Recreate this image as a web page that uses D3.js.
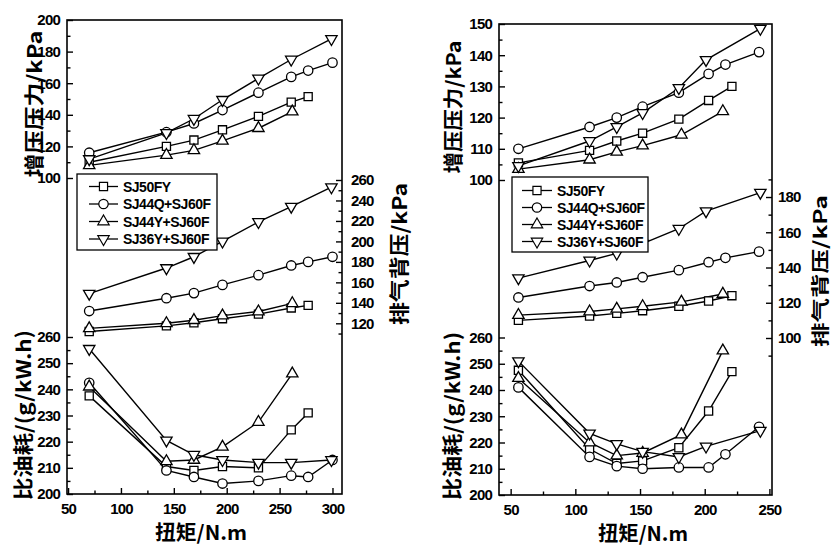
<!DOCTYPE html>
<html>
<head>
<meta charset="utf-8">
<script src="https://cdn.jsdelivr.net/npm/d3@7"></script>
<style>
body { margin: 0; background: #fff; }
svg { display: block; background: #fff; }
.tick text { font-family: 'Liberation Sans', Arial, sans-serif; font-weight: bold; font-size: 15px; letter-spacing: -0.8px; fill: #000; }
.tick line { stroke: #000; stroke-width: 1.4; }
.title { font-family: 'Noto Sans CJK SC', sans-serif; font-weight: bold; font-size: 20px; fill: #000; }
.legend text { font-family: 'Liberation Sans', Arial, sans-serif; font-weight: bold; font-size: 14px; letter-spacing: -0.5px; fill: #000; }
</style>
</head>
<body>
<svg id="chart" width="834" height="547"></svg>
<script>
// series
const seriesNames = ['SJ50FY', 'SJ44Q+SJ60F', 'SJ44Y+SJ60F', 'SJ36Y+SJ60F'];

// left panel : torque (N.m) per series
const leftTorque = [
    [70, 143, 169, 196, 230, 261, 277],
    [70, 143, 169, 196, 230, 261, 277, 300],
    [70, 143, 169, 196, 230, 262],
    [70, 143, 169, 196, 230, 261, 299]
];
const leftBoost = [
    [110, 120, 124, 130.5, 139, 148, 151.5],
    [116, 129, 134.5, 143, 154, 164, 168, 173],
    [108, 114.5, 117.5, 123.5, 131.5, 142],
    [112, 128.5, 137.5, 149.5, 163, 175, 188]
];
const leftExhaust = [
    [112, 117.5, 120.5, 124.5, 129, 135, 137.5],
    [132, 144.5, 149.5, 157.5, 167, 176.5, 180, 185],
    [115, 120, 123, 127.5, 131.5, 139.5],
    [149, 174, 185, 200, 219, 234, 253]
];
const leftSfc = [
    [237.5, 210.5, 209, 210.5, 210, 224.5, 231],
    [242.5, 209, 206.5, 204, 205, 207, 206.5, 213],
    [241, 212.5, 213, 218, 227.5, 246],
    [255.5, 220.5, 215, 213, 212, 212, 213]
];

// right panel
const rightTorque = [
    [56, 111, 132, 152, 180, 203, 221],
    [56, 111, 132, 152, 180, 203, 216, 242],
    [56, 111, 132, 152, 182, 214],
    [56, 111, 132, 152, 180, 201, 243]
];
const rightBoost = [
    [105.5, 109.5, 112.5, 115, 119.5, 125.5, 130],
    [110, 117, 120, 123.5, 128, 134, 137, 141],
    [103.5, 106.5, 109, 111, 114.5, 122],
    [104.5, 112.5, 117, 121.5, 129.5, 138.5, 148.5]
];
const rightExhaust = [
    [110, 112.5, 114, 115.5, 118, 121, 124],
    [123, 129.5, 131.5, 134.5, 138.5, 143, 145.5, 149],
    [113, 115, 116.5, 118, 120.5, 125],
    [134, 144, 148, 153.5, 162, 172, 182.5]
];
const rightSfc = [
    [247.5, 217.5, 212, 213, 218, 232, 247],
    [241, 214.5, 211, 210, 210.5, 210.5, 215.5, 226],
    [244.5, 220, 215, 216, 223, 255],
    [251, 223.5, 219.5, 216.5, 214.5, 218.5, 224.5]
];

// tick labels
const leftXTicks = [50, 100, 150, 200, 250, 300];
const rightXTicks = [50, 100, 150, 200, 250];
const leftBoostTicks = [100, 120, 140, 160, 180, 200];
const rightBoostTicks = [100, 110, 120, 130, 140, 150];
const leftExhaustTicks = [120, 140, 160, 180, 200, 220, 240, 260];
const rightExhaustTicks = [100, 120, 140, 160, 180];
const sfcTicks = [200, 210, 220, 230, 240, 250, 260];

const boostTitle = '增压压力/kPa';
const exhaustTitle = '排气背压/kPa';
const sfcTitle = '比油耗/(g/kW.h)';
const xTitle = '扭矩/N.m';

const svg = d3.select('#chart');

// minor ticks half way between the labelled ones
function minors(ticks, extraBefore, extraAfter) {
    const step = ticks[1] - ticks[0];
    let m = ticks.slice(0, -1).map(t => t + step / 2);
    if (extraBefore) m.unshift(ticks[0] - step / 2);
    if (extraAfter) m.push(ticks[ticks.length - 1] + step / 2);
    return m;
}

function marker(type) {
    if (type === 0) return d3.symbol().type(d3.symbolSquare).size(66)();
    if (type === 1) return d3.symbol().type(d3.symbolCircle).size(70)();
    return d3.symbol().type(d3.symbolTriangle).size(56)();
}

function drawAxis(g, axis, major, minor, pad) {
    g.call(axis.tickValues(minor).tickSize(-3.5).tickFormat(''))
        .call(s => s.select('.domain').remove());
    const g2 = g.append('g');
    g2.call(axis.tickValues(major).tickSize(-6).tickPadding(pad).tickFormat(d3.format('d')))
        .call(s => s.select('.domain').remove());
}

function title(x, y, txt, len, rotate, size) {
    svg.append('text')
        .attr('class', 'title')
        .attr('transform', `translate(${x}, ${y})` + (rotate ? ' rotate(-90)' : ''))
        .attr('text-anchor', 'middle')
        .attr('dominant-baseline', 'central')
        .attr('textLength', len)
        .attr('lengthAdjust', 'spacingAndGlyphs')
        .style('font-size', size ? size + 'px' : null)
        .text(txt);
}

function drawPanel(p, torque, boost, exhaust, sfc) {
    const x = d3.scaleLinear().domain(p.xDomain).range([p.x0, p.x1]);
    const yBoost = d3.scaleLinear().domain(p.boostDomain).range(p.boostRange);
    const yExh = d3.scaleLinear().domain(p.exhDomain).range(p.exhRange);
    const ySfc = d3.scaleLinear().domain([200, 260]).range(p.sfcRange);

    // axes
    drawAxis(svg.append('g').attr('transform', `translate(0, ${p.bottom})`),
        d3.axisBottom(x), p.xTicks, minors(p.xTicks, false, false), 9);
    drawAxis(svg.append('g').attr('transform', `translate(${p.x0}, 0)`),
        d3.axisLeft(yBoost), p.boostTicks, minors(p.boostTicks), 7);
    drawAxis(svg.append('g').attr('transform', `translate(${p.x0}, 0)`),
        d3.axisLeft(ySfc), sfcTicks, minors(sfcTicks), 7);
    drawAxis(svg.append('g').attr('transform', `translate(${p.x1}, 0)`),
        d3.axisRight(yExh), p.exhTicks, minors(p.exhTicks, true, p.exhTop), p.rightPad);

    // frame
    svg.append('rect')
        .attr('x', p.x0).attr('y', p.top)
        .attr('width', p.x1 - p.x0).attr('height', p.bottom - p.top)
        .attr('fill', 'none').attr('stroke', '#000').attr('stroke-width', 1.6);

    const groups = [[boost, yBoost], [exhaust, yExh], [sfc, ySfc]];
    groups.forEach(([vals, y]) => {
        const line = d3.line().x(d => x(d[0])).y(d => y(d[1]));
        vals.forEach((v, i) => {
            const pts = torque[i].map((t, j) => [t, v[j]]);
            svg.append('path')
                .attr('d', line(pts))
                .attr('fill', 'none').attr('stroke', '#000').attr('stroke-width', 1.4);
        });
        vals.forEach((v, i) => {
            const pts = torque[i].map((t, j) => [t, v[j]]);
            svg.selectAll(null)
                .data(pts)
                .enter()
                .append('path')
                .attr('d', marker(i))
                .attr('transform', d => `translate(${x(d[0])}, ${y(d[1])})` + (i === 3 ? ' rotate(180)' : ''))
                .attr('fill', '#fff').attr('stroke', '#000').attr('stroke-width', 1.3);
        });
    });

    // legend
    const lg = svg.append('g').attr('class', 'legend')
        .attr('transform', `translate(${p.legend[0]}, ${p.legend[1]})`);
    lg.append('rect')
        .attr('width', p.legend[2]).attr('height', p.legend[3])
        .attr('fill', '#fff').attr('stroke', '#000').attr('stroke-width', 1.3);
    seriesNames.forEach((name, i) => {
        const yy = p.legendRow0 + i * p.legendStep;
        lg.append('line')
            .attr('x1', p.legendLine[0]).attr('x2', p.legendLine[1])
            .attr('y1', yy).attr('y2', yy)
            .attr('stroke', '#000').attr('stroke-width', 1.3);
        lg.append('path')
            .attr('d', marker(i))
            .attr('transform', `translate(${(p.legendLine[0] + p.legendLine[1]) / 2}, ${yy})` + (i === 3 ? ' rotate(180)' : ''))
            .attr('fill', '#fff').attr('stroke', '#000').attr('stroke-width', 1.2);
        lg.append('text')
            .attr('x', p.legendLine[1] + 5).attr('y', yy)
            .attr('dominant-baseline', 'central')
            .text(name);
    });

    // titles
    title(p.titles.boost[0], p.titles.boost[1], boostTitle, p.titles.boost[2], true);
    title(p.titles.sfc[0], p.titles.sfc[1], sfcTitle, p.titles.sfc[2], true);
    title(p.titles.exh[0], p.titles.exh[1], exhaustTitle, p.titles.exh[2], true, p.titles.exh[3]);
    title(p.titles.x[0], p.titles.x[1], xTitle, p.titles.x[2], false);
}

drawPanel({
    x0: 67, x1: 342, top: 20, bottom: 494,
    xDomain: [49, 309], xTicks: leftXTicks,
    boostDomain: [100, 200], boostRange: [178, 20], boostTicks: leftBoostTicks,
    exhDomain: [120, 260], exhRange: [323.3, 180], exhTicks: leftExhaustTicks, exhTop: false,
    sfcRange: [494, 337],
    rightPad: 9,
    legend: [77, 174, 140, 76], legendRow0: 12.5, legendStep: 17.5, legendLine: [12, 41],
    titles: { boost: [33, 104, 147], sfc: [22, 415, 170], exh: [398, 254, 142], x: [201, 531, 92] }
}, leftTorque, leftBoost, leftExhaust, leftSfc);

drawPanel({
    x0: 499, x1: 772, top: 24, bottom: 495,
    xDomain: [41, 252], xTicks: rightXTicks,
    boostDomain: [100, 150], boostRange: [180, 24], boostTicks: rightBoostTicks,
    exhDomain: [100, 190], exhRange: [338, 179.4], exhTicks: rightExhaustTicks, exhTop: true,
    sfcRange: [495, 337.5],
    rightPad: 6,
    legend: [512, 177, 136, 75], legendRow0: 13.5, legendStep: 17, legendLine: [10, 40],
    titles: { boost: [452, 107, 133], sfc: [451, 416, 168], exh: [819, 271, 152, 18], x: [643, 532, 90] }
}, rightTorque, rightBoost, rightExhaust, rightSfc);
</script>
</body>
</html>
